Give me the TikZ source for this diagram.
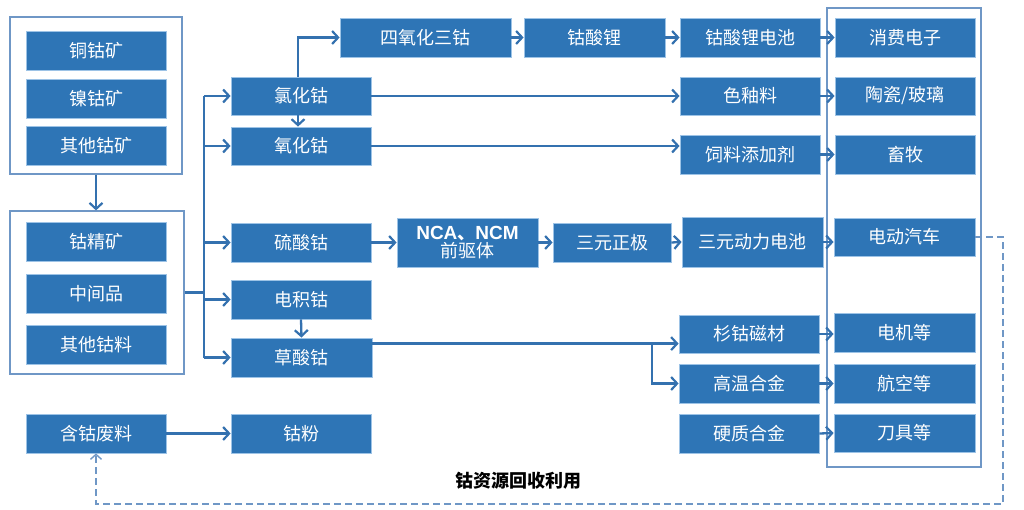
\documentclass[tikz,border=0pt]{standalone}
\usepackage{fontspec}
\setmainfont{Noto Sans CJK SC}
\newfontfamily\lat{Liberation Sans}
\usetikzlibrary{arrows.meta}
\definecolor{cblue}{HTML}{2E75B6}
\definecolor{cedge}{HTML}{9DC3E6}
\definecolor{cline}{HTML}{3471AF}
\definecolor{cframe}{HTML}{6F97C6}
\definecolor{cdash}{HTML}{6F97C6}
\tikzset{
  box/.style={fill=cblue, draw=cedge, line width=0.8pt, text=white, inner sep=0pt,
    minimum width=140pt, minimum height=39pt, font=\fontsize{18}{20}\selectfont},
  frame/.style={draw=cframe, line width=1.2pt, inner sep=0pt},
  arr/.style={draw=cline, line width=2.3pt, -{Straight Barb[length=6pt,width=13pt,line width=2.2pt]}},
  plain/.style={draw=cline, line width=2.3pt},
  dasharr/.style={draw=cdash, line width=1.4pt, dash pattern=on 7pt off 4pt,
    -{Straight Barb[length=5pt,width=11pt,line width=1.4pt]}},
}
\begin{document}
\begin{tikzpicture}[x=1pt,y=-1pt]
\useasboundingbox (0,0) rectangle (1024,510);
% frames
\node[frame, minimum width=172pt, minimum height=157pt] (grpA) at (96,95.5) {};
\node[frame, minimum width=174pt, minimum height=163pt] (grpB) at (97,292.5) {};
\node[frame, minimum width=154pt, minimum height=459pt] (grpC) at (904,237.5) {};
% left column
\node[box] (tgk) at (96,50.5) {铜钴矿};
\node[box] (ngk) at (96,99) {镍钴矿};
\node[box] (qtgk) at (96,146) {其他钴矿};
\node[box] (gjk) at (96,241.5) {钴精矿};
\node[box] (zjp) at (96,293.5) {中间品};
\node[box] (qtgl) at (96,344.5) {其他钴料};
\node[box] (hgfl) at (96,433.5) {含钴废料};
% second column
\node[box, minimum height=38pt] (lhc) at (301,96) {氯化钴};
\node[box, minimum height=38pt] (yhc) at (301,146) {氧化钴};
\node[box] (lsc) at (301,242.5) {硫酸钴};
\node[box] (djc) at (301,299.5) {电积钴};
\node[box, minimum width=141pt] (csc) at (301.5,357.5) {草酸钴};
\node[box] (gf) at (301,433.5) {钴粉};
% top row
\node[box, minimum width=171pt] (sy) at (425.5,37.5) {四氧化三钴};
\node[box, minimum width=141pt] (gsl) at (594.5,37.5) {钴酸锂};
\node[box] (gsld) at (750,37.5) {钴酸锂电池};
% middle
\node[box, minimum width=141pt, minimum height=49pt, align=center] (nca) at (467.5,242.5)
  {{\lat\bfseries\fontsize{19}{19}\selectfont NCA}{\bfseries 、}{\lat\bfseries\fontsize{19}{19}\selectfont NCM}\\[-2pt]前驱体};
\node[box, minimum width=118pt] (syzj) at (612,242.5) {三元正极};
\node[box, minimum width=141pt, minimum height=50pt] (sydl) at (752.5,242) {三元动力电池};
\node[box, minimum height=38pt] (syl) at (750,96) {色釉料};
\node[box] (sltj) at (750,154.5) {饲料添加剂};
\node[box, minimum height=38pt] (sgcc) at (749,334) {杉钴磁材};
\node[box] (gwhj) at (749,383.5) {高温合金};
\node[box] (yzhj) at (749,433.5) {硬质合金};
% right column
\node[box] (xfdz) at (905,37.5) {消费电子};
\node[box, minimum height=38pt] (tc) at (905,96) {陶瓷/玻璃};
\node[box] (xm) at (905,154.5) {畜牧};
\node[box, minimum width=141pt, minimum height=38pt] (ddqc) at (904.5,237) {电动汽车};
\node[box, minimum width=141pt] (djd) at (904.5,332.5) {电机等};
\node[box, minimum width=141pt] (hkd) at (904.5,383.5) {航空等};
\node[box, minimum width=141pt, minimum height=38pt] (djud) at (904.5,433) {刀具等};
% label
\node[font=\fontsize{18}{20}\selectfont\bfseries, text=black] (lbl) at (518,481) {钴资源回收利用};
% connectors
\draw[arr] (grpA.south) -- (grpA.south |- grpB.north);
\coordinate (trunk) at (204,292.5);
\draw[plain] (grpB.east |- trunk) -- (trunk);
\draw[plain] (trunk |- lhc) -- (trunk |- csc);
\draw[arr] (trunk |- lhc) -- (lhc.west);
\draw[arr] (trunk |- yhc) -- (yhc.west);
\draw[arr] (trunk |- lsc) -- (lsc.west);
\draw[arr] (trunk |- djc) -- (djc.west);
\draw[arr] (trunk |- csc) -- (csc.west);
\draw[arr] ([xshift=-3pt]lhc.north) |- (sy.west);
\draw[arr] ([xshift=-3pt]lhc.south) -- ([xshift=-3pt]yhc.north);
\draw[arr] (sy.east) -- (gsl.west);
\draw[arr] (gsl.east) -- (gsld.west);
\draw[arr] (gsld.east) -- (xfdz.west);
\draw[arr] (lhc.east) -- (syl.west);
\draw[arr] (syl.east) -- (tc.west);
\draw[arr] (yhc.east) -- (yhc.east -| sltj.west);
\draw[arr] (sltj.east) -- (xm.west);
\draw[arr] (lsc.east) -- (nca.west);
\draw[arr] (nca.east) -- (syzj.west);
\draw[arr] (syzj.east) -- (sydl.west);
\draw[arr] (sydl.east) -- (sydl.east -| ddqc.west);
\draw[arr] (djc.south) -- (csc.north);
\coordinate (cs) at ([yshift=-6pt]csc.north east);
\coordinate (br) at (652,0);
\draw[arr] (cs) -- (cs -| sgcc.west);
\draw[arr] (br |- cs) |- (gwhj.west);
\draw[arr] (sgcc.east) -- (sgcc.east -| djd.west);
\draw[arr] (gwhj.east) -- (hkd.west);
\draw[arr] (yzhj.east) -- (djud.west);
\draw[arr] (hgfl.east) -- (gf.west);
\coordinate (d1) at (1003,504);
\draw[dasharr] (ddqc.east) -| (d1) -| (hgfl.south);
\end{tikzpicture}
\end{document}
